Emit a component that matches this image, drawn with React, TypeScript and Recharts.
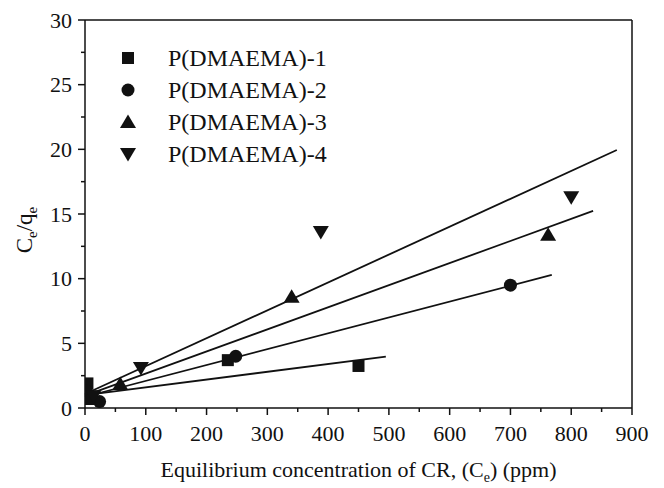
import React from 'react';
import { ComposedChart, Scatter, XAxis, YAxis, ReferenceLine, Legend } from 'recharts';

const p1 = [{ x: 4, y: 1.9 }, { x: 9, y: 0.9 }, { x: 235, y: 3.7 }, { x: 450, y: 3.25 }];
const p2 = [{ x: 2, y: 1.3 }, { x: 24, y: 0.5 }, { x: 248, y: 4.0 }, { x: 700, y: 9.5 }];
const p3 = [{ x: 6, y: 0.7 }, { x: 58, y: 1.85 }, { x: 340, y: 8.6 }, { x: 762, y: 13.4 }];
const p4 = [{ x: 14, y: 0.9 }, { x: 92, y: 3.1 }, { x: 388, y: 13.6 }, { x: 800, y: 16.3 }];

const fit1 = [{ x: 0, y: 1.0 }, { x: 495, y: 3.97 }];
const fit2 = [{ x: 0, y: 0.87 }, { x: 768, y: 10.29 }];
const fit3 = [{ x: 0, y: 0.95 }, { x: 836, y: 15.24 }];
const fit4 = [{ x: 0, y: 1.08 }, { x: 875, y: 19.95 }];

const seriesNames = ['P(DMAEMA)-1', 'P(DMAEMA)-2', 'P(DMAEMA)-3', 'P(DMAEMA)-4'];
const xTicks = [0, 50, 100, 150, 200, 250, 300, 350, 400, 450, 500, 550, 600, 650, 700, 750, 800, 850, 900];
const yTicks = [0, 2.5, 5, 7.5, 10, 12.5, 15, 17.5, 20, 22.5, 25, 27.5, 30];

const INK = '#111';
const FONT = '"Liberation Serif", "Times New Roman", serif';

const Square = ({ cx, cy }: any) => <rect x={cx - 6} y={cy - 6} width={12} height={12} fill={INK} />;
const Circle = ({ cx, cy }: any) => <circle cx={cx} cy={cy} r={6.5} fill={INK} />;
const TriUp = ({ cx, cy }: any) => (
  <polygon points={`${cx},${cy - 7.5} ${cx + 8},${cy + 6} ${cx - 8},${cy + 6}`} fill={INK} />
);
const TriDown = ({ cx, cy }: any) => (
  <polygon points={`${cx},${cy + 7.5} ${cx + 8},${cy - 6} ${cx - 8},${cy - 6}`} fill={INK} />
);
const shapes = [Square, Circle, TriUp, TriDown];

const XTick = (props: any) => {
  const { x, y, payload } = props;
  const v = payload.value;
  const major = v % 100 === 0;
  return (
    <g>
      <line x1={x} y1={y} x2={x} y2={y + (major ? 7 : 4)} stroke={INK} strokeWidth={1.5} />
      {major && (
        <text x={x} y={y + 33} textAnchor="middle" fontFamily={FONT} fontSize={22} fill={INK}>
          {v}
        </text>
      )}
    </g>
  );
};

const YTick = (props: any) => {
  const { x, y, payload } = props;
  const v = payload.value;
  const major = v % 5 === 0;
  return (
    <g>
      <line x1={x} y1={y} x2={x - (major ? 7 : 4)} y2={y} stroke={INK} strokeWidth={1.5} />
      {major && (
        <text x={x - 13} y={y} dy="0.35em" textAnchor="end" fontFamily={FONT} fontSize={22} fill={INK}>
          {v}
        </text>
      )}
    </g>
  );
};

const XLabel = (props: any) => {
  const vb = props.viewBox || {};
  const cx = vb.x + vb.width / 2;
  return (
    <text x={cx} y={vb.y + 69} textAnchor="middle" fontFamily={FONT} fontSize={22} fill={INK}>
      Equilibrium concentration of CR, (C
      <tspan dy={5} fontSize={14}>e</tspan>
      <tspan dy={-5}>) (ppm)</tspan>
    </text>
  );
};

const YLabel = (props: any) => {
  const vb = props.viewBox || {};
  const bx = vb.x + 24;
  const by = vb.y + 210;
  return (
    <text
      x={bx}
      y={by}
      transform={`rotate(-90, ${bx}, ${by})`}
      textAnchor="middle"
      fontFamily={FONT}
      fontSize={23}
      fill={INK}
    >
      C<tspan dy={5} fontSize={15}>e</tspan>
      <tspan dy={-5}>/q</tspan>
      <tspan dy={5} fontSize={15}>e</tspan>
    </text>
  );
};

const LegendContent = () => (
  <svg width={220} height={140}>
    {seriesNames.map((name, i) => {
      const Shape = shapes[i];
      const cy = 20 + i * 32;
      return (
        <g key={name}>
          <Shape cx={20} cy={cy} />
          <text x={60} y={cy + 8} fontFamily={FONT} fontSize={24} fill={INK}>
            {name}
          </text>
        </g>
      );
    })}
  </svg>
);

export default function App() {
  const datasets = [p1, p2, p3, p4];
  const fits = [fit1, fit2, fit3, fit4];
  return (
    <ComposedChart width={656} height={480} margin={{ top: 12, right: 32, bottom: 0, left: 0 }}>
      <XAxis
        dataKey="x"
        type="number"
        domain={[0, 900]}
        ticks={xTicks}
        interval={0}
        tick={<XTick />}
        tickLine={false}
        tickSize={0}
        tickMargin={0}
        height={80}
        axisLine={{ stroke: INK, strokeWidth: 1.5 }}
        allowDataOverflow
        label={<XLabel />}
      />
      <YAxis
        dataKey="y"
        type="number"
        domain={[0, 30]}
        ticks={yTicks}
        interval={0}
        tick={<YTick />}
        tickLine={false}
        tickSize={0}
        tickMargin={0}
        width={77}
        axisLine={{ stroke: INK, strokeWidth: 1.5 }}
        allowDataOverflow
        label={<YLabel />}
      />
      <ReferenceLine y={30} stroke={INK} strokeWidth={1.5} />
      <ReferenceLine x={900} stroke={INK} strokeWidth={1.5} />
      {fits.map((f, i) => (
        <ReferenceLine
          key={'fit' + i}
          segment={[f[0], f[1]]}
          stroke={INK}
          strokeWidth={1.8}
        />
      ))}
      {datasets.map((d, i) => (
        <Scatter
          key={'s' + i}
          name={seriesNames[i]}
          data={d}
          dataKey="y"
          shape={shapes[i]}
          isAnimationActive={false}
        />
      ))}
      <Legend
        layout="vertical"
        align="center"
        verticalAlign="middle"
        content={<LegendContent />}
        wrapperStyle={{ left: 100, top: 30, width: 220, height: 140 }}
      />
    </ComposedChart>
  );
}
